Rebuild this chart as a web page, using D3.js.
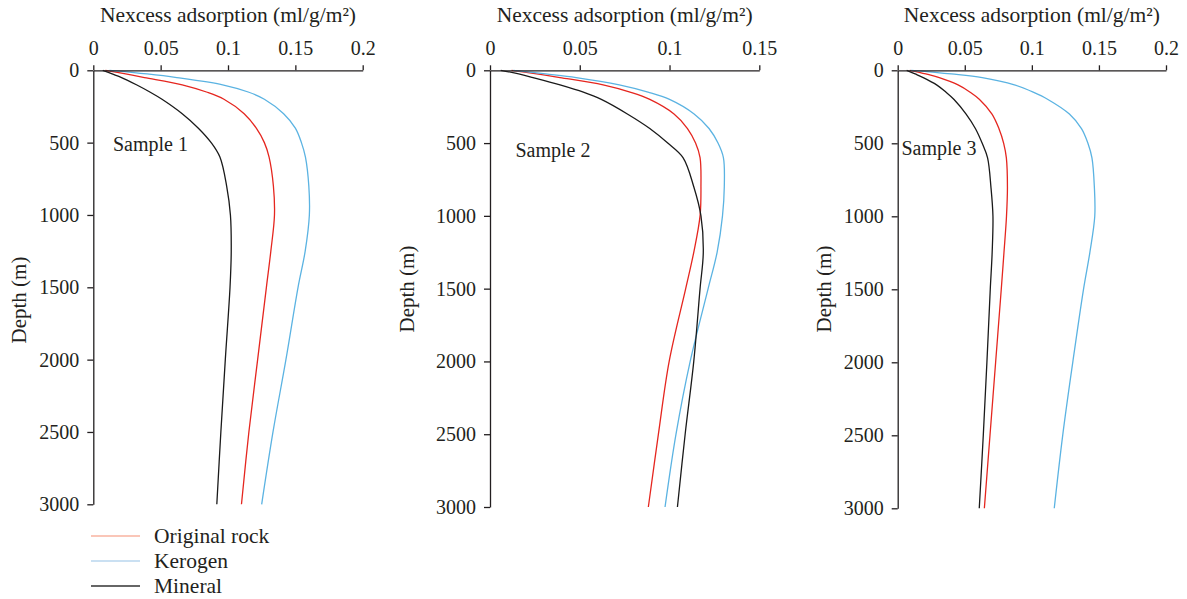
<!DOCTYPE html>
<html>
<head>
<meta charset="utf-8">
<title>Nexcess adsorption vs depth</title>
<script src="https://d3js.org/d3.v7.min.js"></script>
<style>
  body { margin: 0; background: #fff; }
  svg { display: block; }
  text { font-family: "Liberation Serif", "Times New Roman", serif; fill: #231f20; }
  .axis path, .axis line { stroke: #231f20; stroke-width: 1.3px; }
  .axis text { font-size: 20px; fill: #231f20; }
</style>
</head>
<body>
<svg id="chart" width="1187" height="599"></svg>
<script>
// depth grid (m) shared by every curve
var depth = [0, 25, 50, 100, 150, 200, 300, 400, 500, 600, 800, 1000, 1250, 1500, 2000, 2500, 3000];

// Sample 1
var s1Rock    = [0.009, 0.024, 0.038, 0.066, 0.084, 0.097, 0.112, 0.121, 0.127, 0.1305, 0.1337, 0.1345, 0.1318, 0.1285, 0.122, 0.1155, 0.110];
var s1Kerogen = [0.012, 0.040, 0.062, 0.096, 0.115, 0.127, 0.1413, 0.150, 0.1545, 0.1575, 0.160, 0.1604, 0.1573, 0.152, 0.143, 0.1334, 0.125];
var s1Mineral = [0.007, 0.014, 0.021, 0.032, 0.042, 0.051, 0.066, 0.078, 0.0875, 0.094, 0.099, 0.1018, 0.1024, 0.1015, 0.098, 0.0947, 0.0917];

// Sample 2
var s2Rock    = [0.012, 0.026, 0.039, 0.063, 0.078, 0.089, 0.1025, 0.110, 0.1145, 0.117, 0.1175, 0.117, 0.1135, 0.109, 0.0998, 0.0938, 0.0882];
var s2Kerogen = [0.013, 0.031, 0.048, 0.072, 0.088, 0.100, 0.1137, 0.122, 0.127, 0.130, 0.1305, 0.1295, 0.1265, 0.1215, 0.1115, 0.1036, 0.0975];
var s2Mineral = [0.006, 0.016, 0.024, 0.039, 0.052, 0.062, 0.0765, 0.089, 0.099, 0.1075, 0.1135, 0.1175, 0.1188, 0.117, 0.1135, 0.1087, 0.1044];

// Sample 3
var s3Rock    = [0.009, 0.021, 0.031, 0.045, 0.054, 0.061, 0.0703, 0.0755, 0.079, 0.081, 0.0818, 0.0811, 0.0792, 0.0772, 0.073, 0.0688, 0.0646];
var s3Kerogen = [0.010, 0.040, 0.063, 0.087, 0.101, 0.112, 0.128, 0.137, 0.1418, 0.1448, 0.1466, 0.1469, 0.1432, 0.1385, 0.1305, 0.123, 0.1167];
var s3Mineral = [0.0067, 0.013, 0.019, 0.029, 0.036, 0.042, 0.051, 0.058, 0.063, 0.067, 0.0695, 0.071, 0.0704, 0.069, 0.0665, 0.0638, 0.0608];

var sampleNames = ["Sample 1", "Sample 2", "Sample 3"];
var seriesNames = ["Original rock", "Kerogen", "Mineral"];
var xTicks1 = [0, 0.05, 0.1, 0.15, 0.2];
var xTicks2 = [0, 0.05, 0.1, 0.15];
var yTicks = [0, 500, 1000, 1500, 2000, 2500, 3000];

var colors = ["#e5261f", "#5bb3e2", "#1a1a1a"];
var legendColors = ["#f9b3a0", "#b8d6ee", "#333333"];

var svg = d3.select("#chart");

var panels = [
  { name: sampleNames[0], series: [s1Rock, s1Kerogen, s1Mineral], xMax: 0.2, ticks: xTicks1,
    x0: 93.3, x1: 362.7, y0: 70.3, y1: 504.3, yTitleX: 18.5, yTitleY: 300, labelX: 113, labelY: 151 },
  { name: sampleNames[1], series: [s2Rock, s2Kerogen, s2Mineral], xMax: 0.15, ticks: xTicks2,
    x0: 490.0, x1: 759.3, y0: 70.3, y1: 507.0, yTitleX: 407, yTitleY: 289, labelX: 515.5, labelY: 157 },
  { name: sampleNames[2], series: [s3Rock, s3Kerogen, s3Mineral], xMax: 0.2, ticks: xTicks1,
    x0: 897.7, x1: 1166.0, y0: 70.3, y1: 508.3, yTitleX: 823.5, yTitleY: 289, labelX: 901.5, labelY: 155 }
];

function fmt(d) { return d === 0 ? "0" : String(d); }

panels.forEach(function(p) {
  var x = d3.scaleLinear().domain([0, p.xMax]).range([p.x0, p.x1]);
  var y = d3.scaleLinear().domain([0, 3000]).range([p.y0, p.y1]);

  var g = svg.append("g");

  // curves
  var line = d3.line()
    .x(function(d) { return x(d[0]); })
    .y(function(d) { return y(d[1]); })
    .curve(d3.curveCatmullRom.alpha(0.5));

  p.series.forEach(function(vals, i) {
    var pts = vals.map(function(v, k) { return [v, depth[k]]; });
    g.append("path")
      .datum(pts)
      .attr("d", line)
      .attr("fill", "none")
      .attr("stroke", colors[i])
      .attr("stroke-width", 1.3);
  });

  // top axis
  g.append("g")
    .attr("class", "axis")
    .attr("transform", "translate(0," + p.y0 + ")")
    .call(d3.axisTop(x).tickValues(p.ticks).tickFormat(fmt).tickSize(5).tickSizeOuter(0).tickPadding(10));

  // left axis
  g.append("g")
    .attr("class", "axis")
    .attr("transform", "translate(" + p.x0 + ",0)")
    .call(d3.axisLeft(y).tickValues(yTicks).tickFormat(d3.format("d")).tickSize(6).tickSizeOuter(0).tickPadding(8));

  // axis titles
  g.append("text")
    .attr("x", (p.x0 + p.x1) / 2)
    .attr("y", 22)
    .attr("text-anchor", "middle")
    .style("font-size", "21.5px")
    .text("Nexcess adsorption (ml/g/m\u00b2)");

  g.append("text")
    .attr("transform", "translate(" + (p.yTitleX + 7) + "," + p.yTitleY + ") rotate(-90)")
    .attr("text-anchor", "middle")
    .style("font-size", "21px")
    .text("Depth (m)");

  g.append("text")
    .attr("x", p.labelX)
    .attr("y", p.labelY)
    .style("font-size", "20px")
    .text(p.name);
});

// legend
var legend = svg.append("g").attr("transform", "translate(91,536)");
seriesNames.forEach(function(n, i) {
  var row = legend.append("g").attr("transform", "translate(0," + (i * 25) + ")");
  row.append("line")
    .attr("x1", 0).attr("x2", 49)
    .attr("y1", 0).attr("y2", 0)
    .attr("stroke", legendColors[i])
    .attr("stroke-width", 1.6);
  row.append("text")
    .attr("x", 63)
    .attr("y", 7)
    .style("font-size", "21.5px")
    .text(n);
});
</script>
</body>
</html>
